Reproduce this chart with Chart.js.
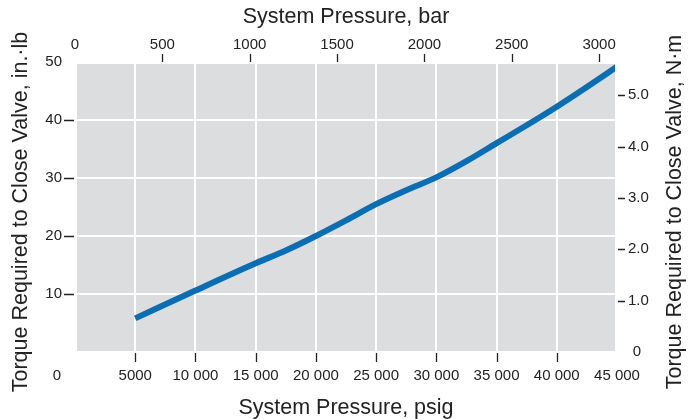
<!DOCTYPE html>
<html>
<head>
<meta charset="utf-8">
<script src="https://cdn.jsdelivr.net/npm/chart.js@4.4.1/dist/chart.umd.min.js"></script>
<style>
  html, body { margin: 0; padding: 0; background: #fff; }
  #wrap { width: 699px; height: 419px; }
</style>
</head>
<body>
<div id="wrap"><canvas id="chart"></canvas></div>
<script>
// system pressure, psig
const pressurePsig = [5000, 10000, 15000, 17500, 20000, 22500, 25000, 27500, 30000, 32500, 35000, 37500, 40000, 42500, 45000];
// torque required to close valve, in.·lb
const torqueInLb = [5.8, 10.6, 15.3, 17.5, 20.0, 22.7, 25.5, 27.9, 30.1, 32.9, 36.0, 39.1, 42.3, 45.7, 49.2];

const psigTicks = [0, 5000, 10000, 15000, 20000, 25000, 30000, 35000, 40000, 45000];
const barTicks = [0, 500, 1000, 1500, 2000, 2500, 3000];
const inLbTicks = [0, 10, 20, 30, 40, 50];
const nmTicks = [0, 1, 2, 3, 4, 5];

const PSI_PER_BAR = 14.5038;
const NM_PER_INLB = 0.112985;
const PSIG_MAX = 45000;
const INLB_MAX = 50;

const family = '"Liberation Sans", Arial, Helvetica, sans-serif';
const ink = '#222';
const clear = 'rgba(0,0,0,0)';
const titleSize = 21.5;

// 5000 stays as is, 10 000 and up get a space
const fmtPsig = v => v >= 10000 ? String(v).replace(/\B(?=(\d{3})+(?!\d))/g, ' ') : String(v);
const setTicks = list => s => { s.ticks = list.map(v => ({ value: v })); };

const decor = {
  id: 'decor',
  beforeDraw(chart) {
    const { ctx, chartArea: a } = chart;
    ctx.save();
    ctx.fillStyle = '#dcdddf';
    ctx.fillRect(a.left + 2, a.top + 2, a.right - a.left - 4, a.bottom - a.top - 3);
    ctx.restore();
  },
  afterDraw(chart) {
    const { ctx, chartArea: a, scales } = chart;
    ctx.save();
    // little tick marks outside the plot
    ctx.strokeStyle = ink;
    ctx.lineWidth = 1.3;
    ctx.beginPath();
    psigTicks.slice(1, -1).forEach(v => {
      const x = Math.round(scales.x.getPixelForValue(v)) + 0.5;
      ctx.moveTo(x, a.bottom + 1);
      ctx.lineTo(x, a.bottom + 10);
    });
    barTicks.slice(1).forEach(v => {
      const x = Math.round(scales.x2.getPixelForValue(v)) + 0.5;
      ctx.moveTo(x, a.top - 8);
      ctx.lineTo(x, a.top);
    });
    inLbTicks.slice(1, -1).forEach(v => {
      const y = Math.round(scales.y.getPixelForValue(v)) + 0.5;
      ctx.moveTo(a.left - 11, y);
      ctx.lineTo(a.left - 1, y);
    });
    nmTicks.slice(1).forEach(v => {
      const y = Math.round(scales.y2.getPixelForValue(v)) + 0.5;
      ctx.moveTo(a.right + 1, y);
      ctx.lineTo(a.right + 8, y);
    });
    ctx.stroke();

    // the two zero labels sit off their ticks
    ctx.fillStyle = ink;
    ctx.font = '15px ' + family;
    ctx.textAlign = 'center';
    ctx.textBaseline = 'middle';
    ctx.fillText('0', scales.x.getPixelForValue(0) - 18, a.bottom + 24);
    ctx.fillText('0', a.right + 20, scales.y2.getPixelForValue(0));

    // both side titles read bottom to top
    ctx.font = titleSize + 'px ' + family;
    const cy = (a.top + a.bottom) / 2 + 5;
    [[21, 'Torque Required to Close Valve, in.·lb'], [675, 'Torque Required to Close Valve, N·m']].forEach(([x, t]) => {
      ctx.save();
      ctx.translate(x, cy);
      ctx.rotate(-Math.PI / 2);
      ctx.fillText(t, 0, 0);
      ctx.restore();
    });
    ctx.restore();
  }
};

new Chart(document.getElementById('chart'), {
  type: 'line',
  data: {
    datasets: [{
      data: pressurePsig.map((p, i) => ({ x: p, y: torqueInLb[i] })),
      xAxisID: 'x',
      yAxisID: 'y',
      borderColor: '#0a6eb4',
      borderWidth: 6,
      borderCapStyle: 'butt',
      pointRadius: 0,
      tension: 0.4,
      cubicInterpolationMode: 'monotone',
      fill: false,
      clip: { left: 0, top: 0, right: -2, bottom: 0 }
    }]
  },
  options: {
    responsive: true,
    maintainAspectRatio: false,
    animation: false,
    layout: { padding: 0 },
    plugins: { legend: { display: false }, tooltip: { enabled: false } },
    scales: {
      x: {
        type: 'linear', position: 'bottom', min: 0, max: PSIG_MAX,
        afterBuildTicks: setTicks(psigTicks),
        afterFit: s => { s.height = 67; },
        grid: { color: c => (c.tick.value > 0 && c.tick.value < PSIG_MAX) ? '#fff' : clear, lineWidth: 2, drawTicks: false },
        border: { display: false },
        ticks: { padding: 15, maxRotation: 0, autoSkip: false, color: ink, font: { family, size: 15 },
          callback: v => v === 0 ? '' : fmtPsig(v) },
        title: { display: true, text: 'System Pressure, psig', color: ink,
          font: { family, size: titleSize, lineHeight: 1 }, padding: { top: 0, bottom: 0 } }
      },
      x2: {
        type: 'linear', position: 'top', min: 0, max: PSIG_MAX / PSI_PER_BAR,
        afterBuildTicks: setTicks(barTicks),
        afterFit: s => { s.height = 62; },
        grid: { display: false, drawTicks: false },
        border: { display: false },
        ticks: { padding: 8, maxRotation: 0, autoSkip: false, color: ink, font: { family, size: 15 },
          callback: v => String(v) },
        title: { display: true, text: 'System Pressure, bar', color: ink,
          font: { family, size: titleSize, lineHeight: 1 }, padding: { top: 6, bottom: 0 } }
      },
      y: {
        type: 'linear', position: 'left', min: 0, max: INLB_MAX,
        afterBuildTicks: setTicks(inLbTicks),
        afterFit: s => { s.width = 75; },
        grid: { color: c => (c.tick.value > 0 && c.tick.value < INLB_MAX) ? '#fff' : clear, lineWidth: 2, drawTicks: false },
        border: { display: false },
        ticks: { padding: 13, color: ink, font: { family, size: 15 },
          callback: v => v === 0 ? '' : String(v) }
      },
      y2: {
        type: 'linear', position: 'right', min: 0, max: INLB_MAX * NM_PER_INLB,
        afterBuildTicks: setTicks(nmTicks),
        afterFit: s => { s.width = 82; },
        grid: { display: false, drawTicks: false },
        border: { display: false },
        ticks: { padding: 11, color: ink, font: { family, size: 15 },
          callback: v => v === 0 ? '' : v.toFixed(1) }
      }
    }
  },
  plugins: [decor]
});
</script>
</body>
</html>
